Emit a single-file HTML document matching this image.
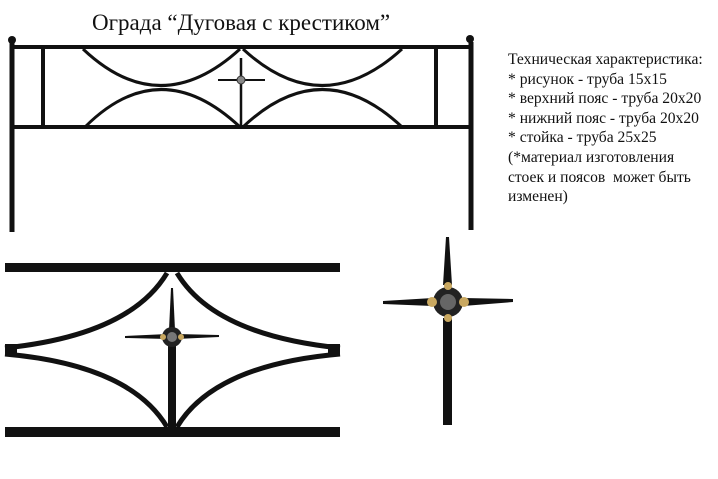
<!DOCTYPE html><html><head><style>
body{margin:0;background:#fff;width:718px;height:479px;overflow:hidden;position:relative;font-family:"Liberation Serif",serif}
.t{position:absolute;left:92px;top:10px;font-size:23px;color:#111}
.s{position:absolute;left:508px;top:50px;font-size:15.6px;line-height:19.6px;color:#111}
</style></head><body>
<div class="t">Ограда “Дуговая с крестиком”</div>
<div class="s">Техническая характеристика:<br>* рисунок - труба 15x15<br>* верхний пояс - труба 20x20<br>* нижний пояс - труба 20x20<br>* стойка - труба 25x25<br>(*материал изготовления<br>стоек и поясов&nbsp; может быть<br>изменен)</div>
<svg width="718" height="479" style="position:absolute;left:0;top:0">
<g stroke="#111" fill="none">
<line x1="12" y1="42" x2="12" y2="232" stroke-width="5"/>
<line x1="471" y1="42" x2="471" y2="230" stroke-width="5"/>
<line x1="12" y1="47" x2="471" y2="47" stroke-width="4"/>
<line x1="12" y1="127" x2="471" y2="127" stroke-width="4"/>
<line x1="43" y1="47" x2="43" y2="127" stroke-width="4"/>
<line x1="436" y1="47" x2="436" y2="127" stroke-width="4"/>
<g stroke-width="3">
<path d="M83 49 Q160 122 240 49"/><path d="M85 127 Q160 52 240 127"/>
<path d="M243 49 Q322 122 402 49"/><path d="M243 127 Q322 52 402 127"/>
<line x1="241" y1="58" x2="241" y2="127" stroke-width="2.5"/>
<line x1="218" y1="80" x2="265" y2="80" stroke-width="2"/>
</g>
</g>
<circle cx="12" cy="40" r="4" fill="#111"/><circle cx="470" cy="39" r="4" fill="#111"/>
<circle cx="241" cy="80" r="4" fill="#888" stroke="#333"/>
<rect x="5" y="263" width="335" height="9" fill="#111"/>
<rect x="5" y="427" width="335" height="10" fill="#111"/>
<g fill="none" stroke="#111" stroke-width="5">
<path d="M167 273 Q130 335 5 348"/><path d="M177 273 Q214 335 340 348"/>
<path d="M5 354 Q130 365 167 427"/><path d="M340 354 Q214 365 177 427"/>
</g>
<rect x="5" y="344" width="12" height="12" fill="#111"/><rect x="328" y="344" width="12" height="12" fill="#111"/>
<rect x="168" y="345" width="8" height="83" fill="#111"/>
<polygon points="171,288 173,288 175,330 169,330" fill="#111"/>
<polygon points="125,336 168,334 168,339 125,338" fill="#111"/>
<polygon points="219,335 176,334 176,339 219,337" fill="#111"/>
<circle cx="172" cy="337" r="10" fill="#222"/><circle cx="172" cy="337" r="5" fill="#777"/>
<circle cx="163" cy="337" r="3" fill="#c9a860"/><circle cx="181" cy="337" r="3" fill="#c9a860"/>
<rect x="443" y="318" width="9" height="107" fill="#111"/>
<polygon points="446,237 449,237 452,285 443,285" fill="#111"/>
<polygon points="383,301 433,298 433,306 383,304" fill="#111"/>
<polygon points="513,299 463,298 463,306 513,302" fill="#111"/>
<circle cx="448" cy="302" r="15" fill="#222"/><circle cx="448" cy="302" r="8" fill="#666"/>
<circle cx="432" cy="302" r="5" fill="#c9a860"/><circle cx="464" cy="302" r="5" fill="#c9a860"/>
<circle cx="448" cy="286" r="4" fill="#c9a860"/><circle cx="448" cy="318" r="4" fill="#c9a860"/>
</svg>
</body></html>
